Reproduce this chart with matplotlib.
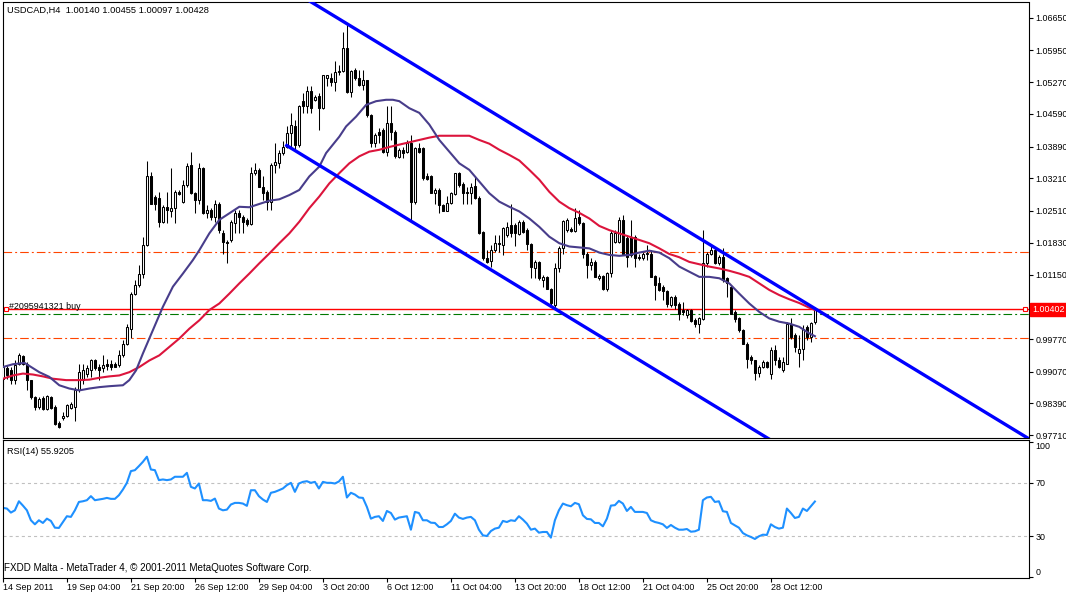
import numpy as np
import matplotlib.pyplot as plt
import matplotlib.transforms as mtransforms
from matplotlib.patches import Rectangle

plt.rcParams['font.family'] = ['Liberation Sans', 'DejaVu Sans']
plt.rcParams['lines.scale_dashes'] = False

# ---- data (USDCAD H4) ----
opens = [0.9892, 0.9914, 0.9910, 0.9889, 0.9924, 0.9940, 0.9924, 0.9889, 0.9853, 0.9831,
         0.9851, 0.9828, 0.9853, 0.9831, 0.9797, 0.9808, 0.9813, 0.9830, 0.9831, 0.9867,
         0.9889, 0.9903, 0.9910, 0.9931, 0.9917, 0.9914, 0.9924, 0.9924, 0.9923, 0.9921,
         0.9942, 0.9967, 0.9999, 1.0074, 1.0092, 1.0117, 1.0178, 1.0325, 1.0280, 1.0278,
         1.0228, 1.0260, 1.0252, 1.0257, 1.0292, 1.0271, 1.0307, 1.0350, 1.0289, 1.0275,
         1.0342, 1.0246, 1.0253, 1.0239, 1.0267, 1.0203, 1.0185, 1.0189, 1.0226, 1.0246,
         1.0239, 1.0232, 1.0223, 1.0332, 1.0339, 1.0303, 1.0292, 1.0271, 1.0350, 1.0353,
         1.0375, 1.0389, 1.0418, 1.0432, 1.0393, 1.0486, 1.0475, 1.0507, 1.0489, 1.0498,
         1.0471, 1.0536, 1.0536, 1.0528, 1.0548, 1.0550, 1.0600, 1.0505, 1.0552, 1.0536,
         1.0521, 1.0531, 1.0457, 1.0396, 1.0419, 1.0425, 1.0378, 1.0439, 1.0419, 1.0366,
         1.0382, 1.0378, 1.0396, 1.0271, 1.0385, 1.0385, 1.0325, 1.0325, 1.0290, 1.0296,
         1.0264, 1.0252, 1.0269, 1.0287, 1.0332, 1.0308, 1.0292, 1.0290, 1.0305, 1.0278,
         1.0207, 1.0150, 1.0145, 1.0167, 1.0180, 1.0178, 1.0200, 1.0221, 1.0221, 1.0202,
         1.0228, 1.0210, 1.0180, 1.0130, 1.0142, 1.0104, 1.0110, 1.0085, 1.0049, 1.0128,
         1.0171, 1.0210, 1.0212, 1.0209, 1.0239, 1.0226, 1.0160, 1.0135, 1.0142, 1.0107,
         1.0112, 1.0083, 1.0119, 1.0185, 1.0185, 1.0232, 1.0194, 1.0196, 1.0196, 1.0153,
         1.0150, 1.0159, 1.0160, 1.0112, 1.0096, 1.0089, 1.0080, 1.0049, 1.0067, 1.0052,
         1.0039, 1.0028, 1.0039, 1.0017, 1.0010, 1.0019, 1.0139, 1.0160, 1.0167, 1.0139,
         1.0153, 1.0107, 1.0089, 1.0035, 1.0021, 0.9996, 0.9967, 0.9939, 0.9931, 0.9904,
         0.9917, 0.9928, 0.9903, 0.9953, 0.9931, 0.9910, 0.9924, 1.0010, 0.9985, 0.9946,
         0.9956, 1.0003, 0.9981, 1.00140]
highs = [0.9931, 0.9921, 0.9917, 0.9931, 0.9946, 0.9942, 0.9928, 0.9890, 0.9856, 0.9853,
         0.9854, 0.9858, 0.9856, 0.9835, 0.9801, 0.9821, 0.9838, 0.9842, 0.9874, 0.9923,
         0.9924, 0.9921, 0.9935, 0.9935, 0.9924, 0.9942, 0.9935, 0.9931, 0.9928, 0.9953,
         0.9974, 1.0010, 1.0078, 1.0103, 1.0135, 1.0196, 1.0357, 1.0335, 1.0285, 1.0292,
         1.0264, 1.0292, 1.0342, 1.0296, 1.0296, 1.0317, 1.0353, 1.0378, 1.0292, 1.0353,
         1.0346, 1.0264, 1.0257, 1.0275, 1.0271, 1.0210, 1.0189, 1.0232, 1.0253, 1.0253,
         1.0242, 1.0235, 1.0346, 1.0353, 1.0342, 1.0325, 1.0296, 1.0353, 1.0396, 1.0382,
         1.0400, 1.0432, 1.0461, 1.0446, 1.0478, 1.0503, 1.0518, 1.0518, 1.0500, 1.0503,
         1.0543, 1.0543, 1.0546, 1.0571, 1.0564, 1.0633, 1.0650, 1.0553, 1.0557, 1.0553,
         1.0553, 1.0532, 1.0459, 1.0418, 1.0428, 1.0428, 1.0475, 1.0475, 1.0425, 1.0385,
         1.0389, 1.0403, 1.0414, 1.0389, 1.0396, 1.0389, 1.0332, 1.0328, 1.0300, 1.0300,
         1.0267, 1.0282, 1.0292, 1.0333, 1.0335, 1.0312, 1.0303, 1.0310, 1.0325, 1.0282,
         1.0209, 1.0167, 1.0178, 1.0200, 1.0200, 1.0217, 1.0228, 1.0267, 1.0225, 1.0232,
         1.0232, 1.0214, 1.0183, 1.0146, 1.0145, 1.0114, 1.0112, 1.0087, 1.0139, 1.0175,
         1.0232, 1.0235, 1.0217, 1.0257, 1.0253, 1.0228, 1.0164, 1.0150, 1.0146, 1.0117,
         1.0114, 1.0121, 1.0210, 1.0210, 1.0239, 1.0242, 1.0200, 1.0232, 1.0200, 1.0160,
         1.0164, 1.0178, 1.0167, 1.0114, 1.0110, 1.0092, 1.0082, 1.0069, 1.0071, 1.0056,
         1.0056, 1.0042, 1.0042, 1.0021, 1.0024, 1.0210, 1.0164, 1.0175, 1.0171, 1.0157,
         1.0171, 1.0110, 1.0092, 1.0039, 1.0024, 0.9999, 0.9971, 0.9942, 0.9933, 0.9921,
         0.9931, 0.9930, 0.9960, 0.9964, 0.9939, 0.9939, 1.0014, 1.0021, 0.9989, 0.9985,
         1.0007, 1.0007, 1.0014, 1.00455]
lows = [0.9874, 0.9892, 0.9881, 0.9881, 0.9921, 0.9921, 0.9867, 0.9849, 0.9826, 0.9828,
        0.9826, 0.9826, 0.9828, 0.9792, 0.9786, 0.9804, 0.9810, 0.9827, 0.9801, 0.9864,
        0.9881, 0.9896, 0.9896, 0.9910, 0.9889, 0.9906, 0.9910, 0.9910, 0.9917, 0.9917,
        0.9939, 0.9964, 0.9980, 1.0071, 1.0089, 1.0107, 1.0175, 1.0266, 1.0253, 1.0217,
        1.0225, 1.0225, 1.0239, 1.0225, 1.0285, 1.0269, 1.0303, 1.0287, 1.0246, 1.0267,
        1.0245, 1.0235, 1.0232, 1.0228, 1.0203, 1.0160, 1.0139, 1.0185, 1.0203, 1.0203,
        1.0203, 1.0219, 1.0221, 1.0328, 1.0302, 1.0275, 1.0253, 1.0253, 1.0332, 1.0342,
        1.0371, 1.0385, 1.0389, 1.0382, 1.0389, 1.0461, 1.0461, 1.0461, 1.0486, 1.0425,
        1.0469, 1.0518, 1.0518, 1.0507, 1.0543, 1.0548, 1.0503, 1.0496, 1.0532, 1.0519,
        1.0511, 1.0453, 1.0389, 1.0389, 1.0396, 1.0375, 1.0368, 1.0403, 1.0364, 1.0364,
        1.0364, 1.0375, 1.0232, 1.0267, 1.0375, 1.0317, 1.0317, 1.0289, 1.0267, 1.0246,
        1.0250, 1.0250, 1.0266, 1.0285, 1.0303, 1.0267, 1.0267, 1.0267, 1.0276, 1.0202,
        1.0146, 1.0139, 1.0132, 1.0164, 1.0164, 1.0157, 1.0196, 1.0196, 1.0175, 1.0200,
        1.0203, 1.0167, 1.0107, 1.0107, 1.0104, 1.0089, 1.0083, 1.0049, 1.0042, 1.0121,
        1.0160, 1.0207, 1.0207, 1.0207, 1.0221, 1.0150, 1.0107, 1.0124, 1.0109, 1.0103,
        1.0082, 1.0080, 1.0110, 1.0183, 1.0183, 1.0159, 1.0132, 1.0153, 1.0132, 1.0146,
        1.0147, 1.0146, 1.0109, 1.0060, 1.0080, 1.0060, 1.0046, 1.0046, 1.0042, 1.0017,
        1.0028, 1.0021, 1.0014, 1.0003, 0.9989, 1.0017, 1.0132, 1.0157, 1.0137, 1.0135,
        1.0099, 1.0067, 1.0030, 1.0014, 0.9992, 0.9966, 0.9914, 0.9924, 0.9889, 0.9896,
        0.9916, 0.9914, 0.9892, 0.9921, 0.9914, 0.9906, 0.9923, 0.9978, 0.9949, 0.9917,
        0.9931, 0.9974, 0.9971, 1.00097]
closes = [0.9917, 0.9899, 0.9889, 0.9921, 0.9942, 0.9924, 0.9889, 0.9853, 0.9831, 0.9849,
          0.9828, 0.9854, 0.9830, 0.9796, 0.9788, 0.9813, 0.9835, 0.9838, 0.9867, 0.9906,
          0.9910, 0.9914, 0.9931, 0.9914, 0.9910, 0.9921, 0.9920, 0.9917, 0.9918, 0.9942,
          0.9967, 1.0003, 1.0074, 1.0092, 1.0117, 1.0178, 1.0325, 1.0267, 1.0267, 1.0228,
          1.0260, 1.0253, 1.0257, 1.0292, 1.0287, 1.0307, 1.0347, 1.0290, 1.0275, 1.0342,
          1.0246, 1.0253, 1.0239, 1.0267, 1.0210, 1.0185, 1.0182, 1.0228, 1.0246, 1.0239,
          1.0228, 1.0223, 1.0332, 1.0339, 1.0303, 1.0289, 1.0271, 1.0350, 1.0355, 1.0375,
          1.0389, 1.0418, 1.0436, 1.0393, 1.0475, 1.0475, 1.0507, 1.0471, 1.0496, 1.0471,
          1.0541, 1.0541, 1.0528, 1.0548, 1.0551, 1.0600, 1.0505, 1.0550, 1.0535, 1.0521,
          1.0532, 1.0457, 1.0396, 1.0414, 1.0414, 1.0378, 1.0439, 1.0421, 1.0368, 1.0382,
          1.0376, 1.0396, 1.0271, 1.0385, 1.0378, 1.0321, 1.0320, 1.0290, 1.0296, 1.0264,
          1.0252, 1.0269, 1.0289, 1.0332, 1.0307, 1.0289, 1.0289, 1.0303, 1.0278, 1.0203,
          1.0150, 1.0142, 1.0167, 1.0183, 1.0183, 1.0214, 1.0217, 1.0203, 1.0203, 1.0228,
          1.0207, 1.0180, 1.0132, 1.0142, 1.0107, 1.0110, 1.0085, 1.0053, 1.0128, 1.0171,
          1.0230, 1.0232, 1.0209, 1.0237, 1.0225, 1.0160, 1.0135, 1.0142, 1.0110, 1.0112,
          1.0083, 1.0119, 1.0203, 1.0204, 1.0232, 1.0160, 1.0153, 1.0157, 1.0150, 1.0150,
          1.0160, 1.0162, 1.0110, 1.0092, 1.0082, 1.0080, 1.0052, 1.0066, 1.0049, 1.0031,
          1.0035, 1.0039, 1.0016, 1.0010, 1.0021, 1.0139, 1.0160, 1.0167, 1.0139, 1.0153,
          1.0103, 1.0096, 1.0031, 1.0019, 0.9996, 0.9967, 0.9935, 0.9931, 0.9904, 0.9917,
          0.9928, 0.9917, 0.9953, 0.9931, 0.9917, 0.9928, 1.0010, 0.9981, 0.9960, 0.9956,
          0.9999, 0.9981, 1.0012, 1.00428]

# moving averages (bar position, value) sampled along the lines
ma_fast_bars = [0, 2.5, 5.4, 9.1, 11.6, 14.1, 16.6, 19.1, 21.6, 24.1, 26.6, 30, 31.6, 33.3, 35,
                37.5, 40, 42.5, 45, 47.5, 49.1, 51.6, 54.1, 56.6, 59.1, 61.6, 64.1, 66.6, 69.1,
                71.6, 74.1, 76.6, 79.1, 80.8, 84.1, 85.8, 88.3, 90.8, 93.3, 95.8, 97.5, 99.1,
                101.6, 104.1, 106.6, 109.1, 111.6, 114.1, 116.6, 119.1, 121.6, 124.1, 126.6,
                129.1, 131.6, 134.1, 136.6, 139.1, 141.6, 144.1, 146.6, 149.1, 151.6, 154.1,
                156.6, 159.1, 161.6, 164.1, 166.6, 169.1, 171.6, 174.1, 176.6, 179.1, 181.6,
                184.1, 186.6, 189.1, 191.6, 194.1, 196.6, 199.1, 201.6, 203]
ma_fast = [0.9917, 0.9923, 0.9926, 0.9906, 0.9896, 0.9878, 0.9871, 0.9867, 0.9871, 0.9874,
           0.9876, 0.9878, 0.9889, 0.9910, 0.9946, 0.9996, 1.0046, 1.0089, 1.0117, 1.0146,
           1.0167, 1.0203, 1.0232, 1.0246, 1.0260, 1.0259, 1.0266, 1.0273, 1.0276, 1.0285,
           1.0296, 1.0325, 1.0346, 1.0375, 1.0410, 1.0432, 1.0453, 1.0478, 1.0486, 1.0489,
           1.0489, 1.0486, 1.0471, 1.0461, 1.0436, 1.0403, 1.0378, 1.0353, 1.0339, 1.0314,
           1.0289, 1.0271, 1.0260, 1.0250, 1.0235, 1.0217, 1.0196, 1.0182, 1.0175, 1.0173,
           1.0171, 1.0162, 1.0157, 1.0155, 1.0157, 1.0162, 1.0166, 1.0162, 1.0150, 1.0132,
           1.0121, 1.0110, 1.0110, 1.0107, 1.0096, 1.0074, 1.0053, 1.0035, 1.0021, 1.0014,
           1.0010, 1.0003, 0.9989, 0.9983]
ma_slow_bars = [0, 2.5, 5, 7.5, 10, 12.5, 15.8, 19.1, 21.6, 24.1, 26.6, 29.1, 31.6, 34.1, 36.6,
                39.1, 41.6, 44.1, 46.6, 49.1, 51.6, 54.1, 56.6, 59.1, 61.6, 64.1, 66.6, 69.1,
                71.6, 74.1, 76.6, 79.1, 81.6, 84.1, 86.6, 89.1, 91.6, 94.1, 96.6, 99.1, 101.6,
                104.1, 106.6, 109.1, 111.6, 114.1, 116.6, 119.1, 121.6, 124.1, 126.6, 129.1,
                131.6, 134.1, 136.6, 139.1, 141.6, 144.1, 146.6, 149.1, 151.6, 154.1, 156.6,
                159.1, 161.6, 164.1, 166.6, 169.1, 171.6, 174.1, 176.6, 179.1, 181.6, 184.1,
                186.6, 189.1, 191.6, 194.1, 196.6, 199.1, 201.6, 203]
ma_slow = [0.9892, 0.9899, 0.9903, 0.9901, 0.9897, 0.9892, 0.9889, 0.9889, 0.9890, 0.9894,
           0.9897, 0.9899, 0.9906, 0.9917, 0.9931, 0.9942, 0.9960, 0.9978, 0.9999, 1.0017,
           1.0039, 1.0053, 1.0074, 1.0096, 1.0117, 1.0139, 1.0160, 1.0182, 1.0203, 1.0228,
           1.0257, 1.0282, 1.0310, 1.0332, 1.0353, 1.0368, 1.0378, 1.0382, 1.0388, 1.0393,
           1.0398, 1.0403, 1.0408, 1.0412, 1.0412, 1.0412, 1.0412, 1.0403, 1.0395, 1.0382,
           1.0371, 1.0359, 1.0339, 1.0318, 1.0292, 1.0271, 1.0257, 1.0247, 1.0235, 1.0219,
           1.0210, 1.0203, 1.0196, 1.0189, 1.0182, 1.0171, 1.0159, 1.0152, 1.0142, 1.0137,
           1.0132, 1.0128, 1.0123, 1.0117, 1.0110, 1.0096, 1.0082, 1.0071, 1.0062, 1.0054,
           1.0044, 1.0039]

rsi = [51.2, 50.7, 47.7, 49.4, 56.1, 52.9, 49.4, 42.0, 39.0, 42.0,
       40.0, 43.2, 41.5, 36.5, 36.3, 40.7, 45.0, 44.5, 49.4, 55.6,
       56.1, 56.9, 59.9, 56.9, 57.4, 57.9, 58.6, 57.9, 57.9, 60.6,
       64.8, 69.8, 78.5, 79.2, 82.2, 85.4, 89.2, 79.7, 79.2, 71.8,
       72.3, 71.8, 72.3, 74.3, 74.3, 74.3, 77.2, 66.8, 65.6, 69.3,
       56.9, 56.9, 56.4, 58.1, 50.7, 49.4, 49.9, 53.7, 54.9, 54.9,
       54.4, 52.7, 64.3, 64.3, 59.9, 57.4, 55.6, 62.4, 63.1, 64.3,
       65.6, 68.1, 69.8, 63.1, 69.3, 70.5, 71.0, 69.8, 70.5, 65.6,
       70.5, 69.8, 69.8, 69.3, 70.8, 74.3, 58.9, 62.4, 61.1, 58.9,
       58.6, 51.9, 43.2, 44.5, 45.0, 41.5, 48.9, 47.4, 42.5, 44.0,
       44.5, 45.0, 35.0, 48.2, 47.4, 42.0, 42.0, 40.2, 40.0, 37.0,
       37.0, 39.0, 41.5, 46.9, 44.0, 43.0, 44.0, 44.5, 42.0, 35.0,
       30.8, 30.3, 34.0, 35.8, 36.5, 41.5, 40.7, 42.0, 41.5, 45.0,
       42.5, 39.5, 35.0, 35.8, 32.8, 33.3, 33.3, 29.1, 42.0, 49.4,
       54.4, 53.2, 52.4, 54.9, 53.9, 45.7, 43.0, 42.7, 40.0, 40.0,
       37.5, 43.2, 52.9, 53.2, 56.4, 54.4, 48.9, 51.9, 48.2, 48.2,
       48.2, 47.4, 42.0, 40.7, 40.0, 39.0, 36.3, 38.5, 36.5, 35.0,
       35.0, 35.5, 33.5, 33.8, 35.0, 56.9, 58.9, 59.4, 55.6, 56.1,
       48.7, 48.2, 40.0, 38.2, 36.5, 32.5, 30.8, 29.6, 28.1, 30.1,
       31.3, 31.1, 39.0, 37.0, 35.8, 36.5, 50.7, 47.4, 43.7, 44.5,
       50.7, 48.9, 52.4, 55.9205]

# channel anchors (bar, price)
chan_bars = [70.6, 151.6]
chan_upper = [1.0732, 1.0310]
chan_lower = [1.0393, 0.9971]

level_lines = [1.01623, 0.99800]
order_price = 1.00402
entry_line = 1.00315
order_label = "#2095941321 buy"

price_ticks = [1.06650, 1.05950, 1.05270, 1.04590, 1.03890, 1.03210, 1.02510,
               1.01830, 1.01150, 0.99770, 0.99070, 0.98390, 0.97710]
rsi_ticks = [0, 30, 70, 100]
rsi_levels = [30, 70]

date_bars = [0, 16, 32, 48, 64, 80, 96, 112, 128, 144, 160, 176, 192]
date_labels = ["14 Sep 2011", "19 Sep 04:00", "21 Sep 20:00", "26 Sep 12:00",
               "29 Sep 04:00", "3 Oct 20:00", "6 Oct 12:00", "11 Oct 04:00",
               "13 Oct 20:00", "18 Oct 12:00", "21 Oct 04:00", "25 Oct 20:00",
               "28 Oct 12:00"]

# ---- figure ----
W, H = 1066, 594
fs = 6.4
fig = plt.figure(figsize=(W / 100, H / 100), dpi=100)
ax = fig.add_axes([2.5 / W, 1 - 437.5 / H, 1026 / W, 435 / H])
rs = fig.add_axes([2.5 / W, 1 - 577.5 / H, 1026 / W, 137.5 / H])
xmin, xmax = -0.1, 256.4

o, h, l, c = map(np.array, (opens, highs, lows, closes))
x = np.arange(len(c))

# horizontal levels
for lvl in level_lines:
    ax.axhline(lvl, color='#FF4500', lw=0.8, dashes=(6.2, 2.2, 1.4, 2.2), zorder=1)
ax.axhline(entry_line, color='#007800', lw=0.8, dashes=(6.2, 2.2, 1.4, 2.2), zorder=1)
ax.axhline(order_price, color='#FF0000', lw=1.0, zorder=2)

# candles
ax.vlines(x, l, h, color='black', lw=0.75, zorder=3)
for i in range(len(c)):
    fc = 'white' if c[i] >= o[i] else 'black'
    ax.add_patch(Rectangle((i - 0.28, min(o[i], c[i])), 0.56, abs(c[i] - o[i]),
                           fc=fc, ec='black', lw=0.75, zorder=4))

# moving averages
ax.plot(ma_slow_bars, ma_slow, color='#DC143C', lw=1.5, zorder=5)
ax.plot(ma_fast_bars, ma_fast, color='#483D8B', lw=1.5, zorder=5)

# channel rays
for line in (chan_upper, chan_lower):
    k = (line[1] - line[0]) / (chan_bars[1] - chan_bars[0])
    ax.plot([chan_bars[0], xmax + 2], [line[0], line[0] + k * (xmax + 2 - chan_bars[0])],
            color='#0000FF', lw=2.4, zorder=6, solid_capstyle='butt')

# order marker and text
trans = mtransforms.blended_transform_factory(ax.transAxes, ax.transData)
ax.plot([0.003, 0.997], [order_price, order_price], 's', transform=trans, ms=3.5,
        mfc='white', mec='#FF0000', mew=0.8, zorder=7, clip_on=False)
ax.text(1.5, order_price, order_label, fontsize=fs, va='baseline', ha='left', zorder=7)
ax.text(1.0 + 4 / 1026, order_price, f'{order_price:.5f}', transform=trans,
        fontsize=fs, color='white', ha='left', va='center', clip_on=False,
        bbox=dict(boxstyle='square,pad=0.25', fc='#FF0000', ec='#FF0000'))

ax.set_xlim(xmin, xmax)
ax.set_ylim(0.97662, 1.06972)
ax.set_xticks([])
ax.yaxis.tick_right()
ax.set_yticks(price_ticks)
ax.set_yticklabels([f'{v:.5f}' for v in price_ticks])
ax.tick_params(axis='y', direction='out', length=3, width=0.8, pad=2, labelsize=fs)

# RSI panel
for lvl in rsi_levels:
    rs.axhline(lvl, color='#C0C0C0', lw=0.8, dashes=(2.2, 2.2))
rs.plot(x, rsi, color='#1E90FF', lw=1.5)
rs.set_xlim(xmin, xmax)
rs.set_ylim(-0.5, 101.6)
rs.yaxis.tick_right()
rs.set_yticks(rsi_ticks)
rs.set_yticklabels([str(v) for v in rsi_ticks])
rs.tick_params(axis='y', direction='out', length=3, width=0.8, pad=2, labelsize=fs)
labs = rs.get_yticklabels()
labs[0].set_va('bottom')
labs[-1].set_va('top')
rs.set_xticks(date_bars)
rs.set_xticklabels(date_labels, ha='left')
rs.tick_params(axis='x', direction='out', length=3, width=0.8, pad=1, labelsize=fs)

for a in (ax, rs):
    for sp in a.spines.values():
        sp.set_linewidth(0.8)
        sp.set_color('black')

fig.text(7 / W, 1 - 10 / H, f"USDCAD,H4  {opens[-1]:.5f} {highs[-1]:.5f} {lows[-1]:.5f} {closes[-1]:.5f}",
         fontsize=6.7, va='center', ha='left')
fig.text(7 / W, 1 - 451 / H, f"RSI(14) {rsi[-1]:.4f}", fontsize=6.6, va='center', ha='left')
fig.text(4 / W, 1 - 568 / H, "FXDD Malta - MetaTrader 4, \u00a9 2001-2011 MetaQuotes Software Corp.",
         fontsize=7.1, va='center', ha='left')

fig.savefig('out.png', dpi=100, facecolor='white')
